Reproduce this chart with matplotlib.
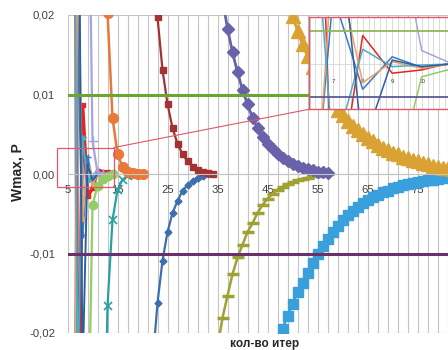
import matplotlib
matplotlib.use('Agg')
import matplotlib.pyplot as plt
from matplotlib.lines import Line2D
from matplotlib.patches import Rectangle

plt.rcParams['font.family'] = ['Liberation Sans', 'DejaVu Sans']

# iteration number / Wmax for every run
x_red = [6, 7, 8, 9, 10, 11, 12, 13, 14]
w_red = [0.2, -0.05, 0.0087, -0.0028, -0.0018, 0.0004, 0.0003, 0.0002, 0.0001]

x_blue1 = [6, 7, 8, 9, 10, 11, 12]
w_blue1 = [-0.08, 0.021, -0.0077, 0.0022, -0.001, 0.0001, 0.0]

x_orange2 = [6, 7, 8, 9, 10, 11, 12]
w_orange2 = [-0.1, 0.035, -0.0057, 0.0007, -0.0013, 0.0, 0.0]

x_cyan = [6, 7, 8, 9, 10, 11, 12]
w_cyan = [0.09, -0.028, 0.0045, -0.0008, -0.0003, 0.0, 0.0]

x_blue2 = [7, 8, 9, 10, 11, 12]
w_blue2 = [0.06, -0.0255, 0.0012, -0.0008, 0.0, 0.0]

x_lav = [9, 10, 11, 12]
w_lav = [0.051, 0.0041, 0.0002, 0.0]

x_lgreen = [9, 10, 11, 12, 13, 14]
w_lgreen = [-0.0395, -0.0039, -0.0015, -0.0006, -0.0002, 0.0]

x_teal = [12, 13, 14, 15, 16, 17, 18, 19]
w_teal = [-0.047, -0.0166, -0.0058, -0.002, -0.0007, -0.00025, -0.0001, 0.0]

x_orange = [12, 13, 14, 15, 16, 17, 18, 19, 20]
w_orange = [0.058, 0.0203, 0.0071, 0.0025, 0.0009, 0.0003, 0.0001, 0.00004, 0.0]

x_bdiam = list(range(22, 34))
w_bdiam = [-0.024, -0.0162, -0.0109, -0.0073, -0.0049, -0.0034, -0.0021,
           -0.0014, -0.0009, -0.0005, -0.0002, 0.0]

x_dred = list(range(22, 35))
w_dred = [0.0295, 0.0197, 0.0131, 0.0088, 0.0058, 0.0038, 0.0025, 0.0016,
          0.0009, 0.0005, 0.00025, 0.0001, 0.0]

x_olive = list(range(35, 58))
w_olive = [-0.0218, -0.0181, -0.0153, -0.0126, -0.0105, -0.0089, -0.0073,
           -0.0062, -0.0049, -0.0039, -0.0031, -0.0025, -0.002, -0.0016,
           -0.0013, -0.001, -0.0008, -0.0006, -0.00045, -0.0003, -0.0002,
           -0.0001, 0.0]

x_purple = list(range(36, 58))
w_purple = [0.022, 0.0183, 0.0153, 0.0128, 0.0106, 0.00875, 0.0071, 0.0058,
            0.0047, 0.0038, 0.0031, 0.0025, 0.002, 0.0016, 0.0013, 0.001,
            0.0008, 0.0006, 0.00045, 0.0003, 0.0002, 0.0001]

x_lblue = list(range(47, 83))
w_lblue = [-0.0215, -0.0195, -0.0178, -0.0163, -0.0149, -0.0137, -0.0124,
           -0.0112, -0.0101, -0.0091, -0.0082, -0.0073, -0.0065, -0.0058,
           -0.0052, -0.0046, -0.0041, -0.0037, -0.0033, -0.0029, -0.0026,
           -0.0023, -0.0021, -0.0018, -0.0016, -0.0014, -0.0013, -0.0011,
           -0.001, -0.0009, -0.0008, -0.0007, -0.0006, -0.0005, -0.0004,
           -0.0004]

x_gold = list(range(49, 83))
w_gold = [0.022, 0.0199, 0.018, 0.0163, 0.0148, 0.0134, 0.0121, 0.011,
          0.0099, 0.009, 0.0081, 0.0074, 0.0067, 0.006, 0.0055, 0.005,
          0.0045, 0.0041, 0.0037, 0.0033, 0.003, 0.0027, 0.0025, 0.0022,
          0.002, 0.0018, 0.0016, 0.0014, 0.0012, 0.001, 0.0009, 0.0008,
          0.0007, 0.0006]

limit = 0.01

runs = [
    (x_red, w_red, dict(color='#e3261f', lw=2.6, marker='s', ms=3.5)),
    (x_blue1, w_blue1, dict(color='#3a78c8', lw=1.6, marker='+', ms=5)),
    (x_orange2, w_orange2, dict(color='#f0a060', lw=1.4, marker='o', ms=3)),
    (x_cyan, w_cyan, dict(color='#4bacc6', lw=1.4, marker='*', ms=4)),
    (x_blue2, w_blue2, dict(color='#2a5fa0', lw=1.4)),
    (x_lav, w_lav, dict(color='#a4a4e2', lw=1.6, marker='+', ms=7)),
    (x_lgreen, w_lgreen, dict(color='#94cc66', lw=1.6, marker='o', ms=6)),
    (x_teal, w_teal, dict(color='#2aa0a0', lw=1.6, marker='x', ms=6, mew=1.2)),
    (x_orange, w_orange, dict(color='#e8793a', lw=1.8, marker='o', ms=7)),
    (x_bdiam, w_bdiam, dict(color='#3d6fae', lw=1.6, marker='D', ms=3.5)),
    (x_dred, w_dred, dict(color='#a33232', lw=1.6, marker='s', ms=5)),
    (x_olive, w_olive, dict(color='#9ea234', lw=1.8, marker='_', ms=8, mew=2.5)),
    (x_purple, w_purple, dict(color='#6762aa', lw=2.0, marker='D', ms=6)),
    (x_lblue, w_lblue, dict(color='#39a0dc', lw=2.0, marker='s', ms=7.5)),
    (x_gold, w_gold, dict(color='#d9a233', lw=2.0, marker='^', ms=10)),
]

W, H = 448, 350
fig = plt.figure(figsize=(W / 100, H / 100), dpi=100)

def fx(px):
    return px / W

def fy(py):
    return 1 - py / H

grid_c = '#c4c4c4'
text_c = '#404040'

ax = fig.add_axes([fx(67.5), fy(333), fx(400), 318 / H])
ax.set_xlim(5, 85)
ax.set_ylim(-0.02, 0.02)

for x, w, style in runs:
    ax.plot(x, w, zorder=2, **style)

ax.axhline(limit, color='#6aa631', lw=2.2, zorder=3)
ax.axhline(-limit, color='#6b2f6e', lw=2.2, zorder=3)

for side in ['left', 'right', 'top']:
    ax.spines[side].set_visible(False)
ax.spines['bottom'].set_position(('data', 0))
ax.spines['bottom'].set_color(grid_c)

ax.set_xticks(range(5, 76, 10))
ax.set_xticks(range(5, 86, 2), minor=True)
ax.set_xticklabels([str(v) for v in range(5, 76, 10)])
ax.set_yticks([-0.02, -0.01, 0, 0.01, 0.02])
ax.set_yticklabels(['-0,02', '-0,01', '0,00', '0,01', '0,02'])
ax.tick_params(axis='x', which='both', length=0, pad=8, labelsize=8.2,
               labelcolor=text_c)
ax.tick_params(axis='y', length=0, pad=9, labelsize=8.2, labelcolor=text_c)
ax.xaxis.grid(True, which='both', color=grid_c, lw=0.8)
ax.yaxis.grid(True, color=grid_c, lw=0.8)
ax.set_axisbelow(True)

fig.text(fx(17), fy(172.5), 'Wmax, P', rotation=90, ha='center', va='center',
         fontsize=10, fontweight='bold', color='#262626')
fig.text(fx(265), fy(347), 'кол-во итер', ha='center', va='baseline',
         fontsize=8.5, fontweight='bold', color='#262626')

# zoomed view of the first iterations
frame_c = '#e0566a'
ins = fig.add_axes([fx(309), fy(109.3), fx(161), 92 / H])
ins.set_zorder(5)
ins.set_facecolor('white')
ins.set_xlim(6.18, 6.18 + 161 / 29.5)
ins.set_ylim(-0.0138, 0.01424)
for x, w, style in runs[:7]:
    ins.plot(x, w, color=style['color'], lw=1.1)
ins.axhline(limit, color='#92b55a', lw=1.3)
ins.axhline(-limit, color='#5e5a96', lw=1.3)
ins.set_xticks([6.2 + 0.2 * i for i in range(27)])
ins.set_yticks([0])
ins.grid(True, color='#d6d6d6', lw=0.6)
ins.set_axisbelow(True)
ins.tick_params(length=0, labelbottom=False, labelleft=False)
for side in ins.spines:
    ins.spines[side].set_color(frame_c)
    ins.spines[side].set_linewidth(1.0)
for k in range(7, 11):
    ins.text(k, -0.0052, str(k), ha='center', va='center', fontsize=4.5,
             color='#404040', zorder=1)

# selection frame and its leader to the zoomed view
fig.add_artist(Rectangle((fx(56.5), fy(187)), fx(114 - 56.5), (187 - 147.5) / H,
                         transform=fig.transFigure, fill=False,
                         edgecolor=frame_c, lw=0.9, zorder=4))
fig.add_artist(Line2D([fx(114), fx(309)], [fy(147.5), fy(109.3)],
                      transform=fig.transFigure, color=frame_c, lw=0.8,
                      zorder=4))

fig.savefig('out.png', dpi=100)
